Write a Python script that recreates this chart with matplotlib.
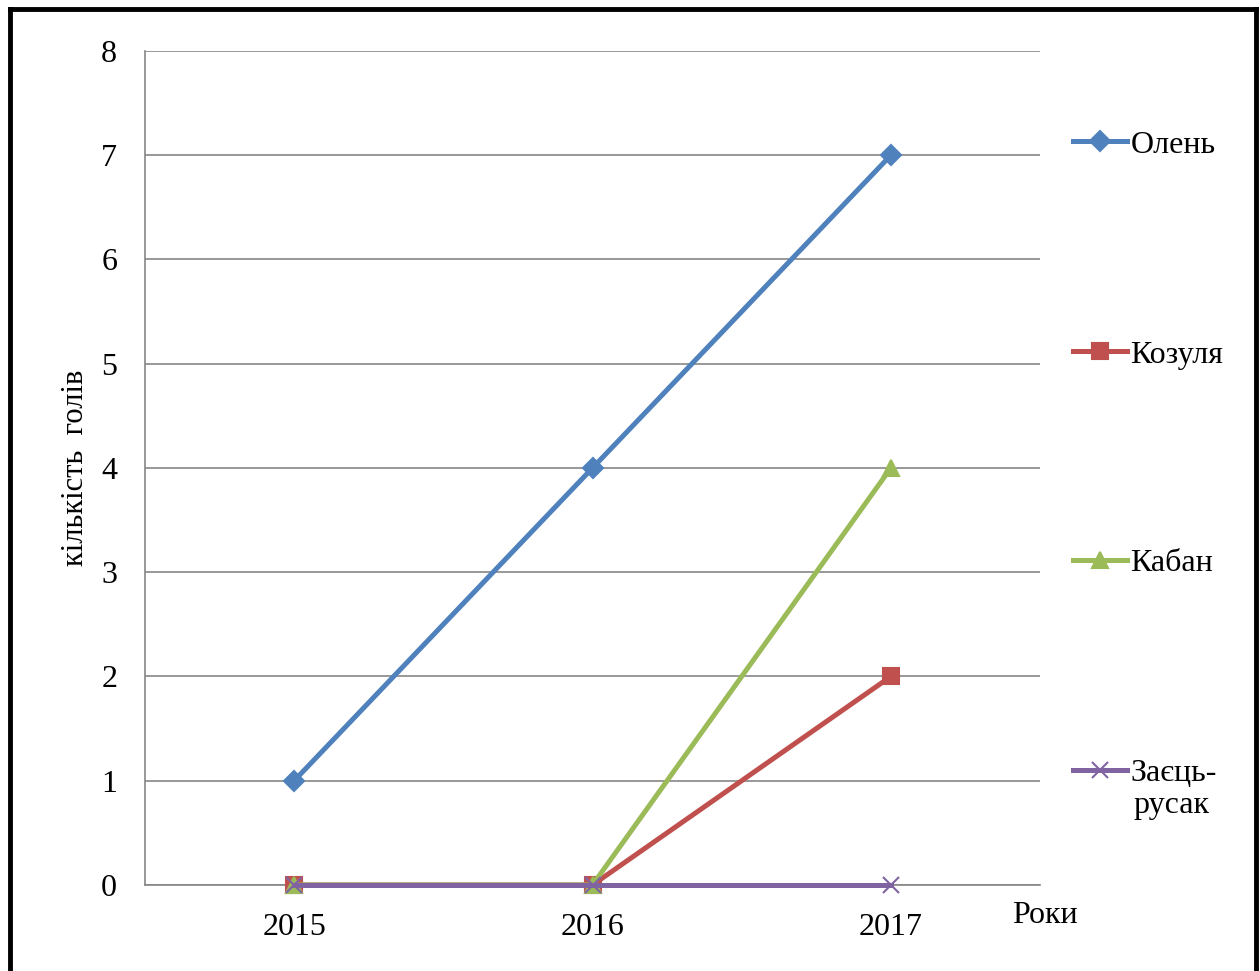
import matplotlib.pyplot as plt
from matplotlib.lines import Line2D

plt.rcParams['font.family'] = ['Liberation Serif', 'DejaVu Serif']

# data
years = ['2015', '2016', '2017']
olen = [1, 4, 7]
kozulia = [0, 0, 2]
kaban = [0, 0, 4]
zaiets = [0, 0, 0]

series = [
    ('Олень', olen, '#4F81BD', 'D', 10),
    ('Козуля', kozulia, '#C0504D', 's', 11),
    ('Кабан', kaban, '#9BBB59', '^', 12),
    ('Заєць-', zaiets, '#8064A2', 'x', 12),
]

fig = plt.figure(figsize=(12.6, 9.71), dpi=100)
ax = fig.add_axes([0.1151, 0.0886, 0.7103, 0.8589])

x = list(range(len(years)))
lines = []
for name, vals, col, mk, ms in series:
    ln, = ax.plot(x, vals, color=col, lw=3.6, marker=mk, markersize=ms,
                  markeredgecolor=col, markeredgewidth=1.5,
                  label=name, zorder=3, clip_on=False)
    lines.append(ln)

ax.set_xlim(-0.5, 2.5)
ax.set_ylim(0, 8)
ax.set_yticks(range(0, 9))
ax.set_xticks(x)
ax.set_xticklabels(years)
ax.tick_params(axis='both', length=0, labelsize=23)
ax.tick_params(axis='y', pad=20)
ax.tick_params(axis='x', pad=20)
ax.yaxis.grid(True, color='#868686', lw=1.2)
ax.set_axisbelow(True)
for s in ['top', 'right']:
    ax.spines[s].set_visible(False)
for s in ['left', 'bottom']:
    ax.spines[s].set_color('#868686')
    ax.spines[s].set_linewidth(1.2)

ax.set_ylabel('кількість  голів', fontsize=22)
ax.yaxis.set_label_coords(-0.062, 0.5)

fig.text(1012 / 1260, 1 - 915 / 971, 'Роки', fontsize=23, va='center', ha='left')

# legend entries, one per series
leg_y = [145, 355, 563, 773]
for ln, yy in zip(lines, leg_y):
    fig.legend(handles=[ln], loc='center left',
               bbox_to_anchor=(1073 / 1260, 1 - yy / 971),
               frameon=False, fontsize=23, borderpad=0, borderaxespad=0,
               handlelength=1.7, handletextpad=0.1)
fig.text(1133 / 1260, 1 - 805 / 971, 'русак', fontsize=23, va='center', ha='left')

# outer frame
for xs, ys in [([10 / 1260, 10 / 1260], [0, 1 - 9 / 971]),
               ([10 / 1260, 1256 / 1260], [1 - 9 / 971, 1 - 9 / 971]),
               ([1256 / 1260, 1256 / 1260], [0, 1 - 9 / 971])]:
    fig.add_artist(Line2D(xs, ys, color='black', lw=3.5, transform=fig.transFigure))

fig.savefig('out.png', dpi=100)
